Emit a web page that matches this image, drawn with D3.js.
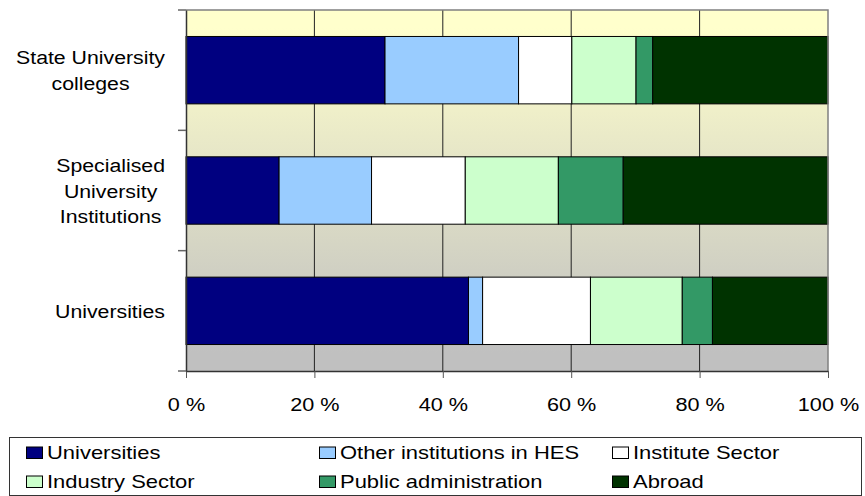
<!DOCTYPE html>
<html>
<head>
<meta charset="utf-8">
<script src="https://cdn.jsdelivr.net/npm/d3@7"></script>
<style>
  body { margin: 0; background: #fff; }
  svg text { font-family: "Liberation Sans", Arial, sans-serif; fill: #000; }
</style>
</head>
<body>
<div id="chart"></div>
<script>
// categories, top to bottom
const categories = ["State University colleges", "Specialised University Institutions", "Universities"];
const categoryLines = [["State University", "colleges"], ["Specialised", "University", "Institutions"], ["Universities"]];

const seriesNames = ["Universities", "Other institutions in HES", "Institute Sector",
  "Industry Sector", "Public administration", "Abroad"];

// share in % per category
const universities = [31.0, 14.5, 44.0];
const otherHES     = [20.8, 14.4, 2.2];
const institute    = [8.3, 14.6, 16.8];
const industry     = [10.0, 14.5, 14.3];
const publicAdmin  = [2.6, 10.1, 4.7];
const abroad       = [27.3, 31.9, 18.0];

const xTicks = [0, 20, 40, 60, 80, 100];
const xTickLabels = ["0 %", "20 %", "40 %", "60 %", "80 %", "100 %"];

const colors = ["#000080", "#99ccff", "#ffffff", "#ccffcc", "#339966", "#003300"];

const width = 865, height = 496;
const plot = { left: 186, right: 828, top: 10, bottom: 371 };

const seriesValues = [universities, otherHES, institute, industry, publicAdmin, abroad];
const rows = categories.map((c, i) => {
  const r = { category: c };
  seriesNames.forEach((s, j) => r[s] = seriesValues[j][i]);
  return r;
});

const stacked = d3.stack().keys(seriesNames)(rows);

const x = d3.scaleLinear().domain([0, 100]).range([plot.left, plot.right]);
const y = d3.scaleBand().domain(categories).range([plot.top, plot.bottom])
  .paddingInner(0.44).paddingOuter(0.22);

const svg = d3.select("#chart").append("svg")
  .attr("width", width)
  .attr("height", height);

// background gradient of the plot area
const grad = svg.append("defs").append("linearGradient")
  .attr("id", "bg").attr("x1", 0).attr("y1", 0).attr("x2", 0).attr("y2", 1);
grad.append("stop").attr("offset", "0.05").attr("stop-color", "#ffffcc");
grad.append("stop").attr("offset", "0.95").attr("stop-color", "#c0c0c0");

svg.append("rect")
  .attr("x", plot.left).attr("y", plot.top)
  .attr("width", plot.right - plot.left).attr("height", plot.bottom - plot.top)
  .attr("fill", "url(#bg)");

// vertical gridlines
svg.append("g").selectAll("line")
  .data(xTicks.slice(1, -1))
  .enter().append("line")
  .attr("x1", d => x(d)).attr("x2", d => x(d))
  .attr("y1", plot.top).attr("y2", plot.bottom)
  .attr("stroke", "#222").attr("stroke-width", 1);

// bars
svg.append("g").selectAll("g")
  .data(stacked)
  .enter().append("g")
  .attr("fill", (d, i) => colors[i])
  .selectAll("rect")
  .data(d => d)
  .enter().append("rect")
  .attr("x", d => x(d[0]))
  .attr("y", d => y(d.data.category))
  .attr("width", d => x(d[1]) - x(d[0]))
  .attr("height", y.bandwidth())
  .attr("stroke", "#000")
  .attr("stroke-width", 1);

// top and right frame
svg.append("path")
  .attr("d", `M${plot.left},${plot.top}H${plot.right}V${plot.bottom}`)
  .attr("fill", "none").attr("stroke", "#808080").attr("stroke-width", 1.5);

// bottom axis
const xAxis = svg.append("g")
  .attr("transform", `translate(0,${plot.bottom})`)
  .call(d3.axisBottom(x).tickValues(xTicks).tickSize(7).tickSizeOuter(0)
    .tickFormat((d, i) => xTickLabels[i]));
xAxis.attr("font-family", null).attr("font-size", null);
xAxis.select(".domain").attr("stroke", "#333").attr("stroke-width", 1.5);
xAxis.selectAll(".tick line").attr("stroke", "#555");
xAxis.selectAll(".tick text")
  .attr("y", 40).attr("dy", null)
  .attr("font-size", "19px")
  .attr("transform", "scale(1.14,1)");

// left axis (ticks sit between categories)
const yAxis = svg.append("g")
  .attr("transform", `translate(${plot.left},0)`)
  .call(d3.axisLeft(y).tickSize(0).tickSizeOuter(0).tickFormat(""));
yAxis.select(".domain").attr("stroke", "#333").attr("stroke-width", 1.5);

const boundaries = d3.range(categories.length + 1).map(i => plot.top + i * y.step());
yAxis.selectAll(".sep")
  .data(boundaries)
  .enter().append("line")
  .attr("class", "sep")
  .attr("x1", -8).attr("x2", 0)
  .attr("y1", d => d).attr("y2", d => d)
  .attr("stroke", "#666").attr("stroke-width", 1.5);

// category labels, lines centred in a block that is right aligned
const labelRight = 165, lineGap = 25.7;
categories.forEach((c, i) => {
  const lines = categoryLines[i];
  const cy = y(c) + y.bandwidth() / 2;
  const g = svg.append("g");
  const texts = g.selectAll("text")
    .data(lines)
    .enter().append("text")
    .attr("font-size", "19px")
    .attr("text-anchor", "middle")
    .text(d => d);
  const sx = 1.12;
  const maxW = d3.max(texts.nodes(), n => n.getComputedTextLength()) * sx;
  const cx = labelRight - maxW / 2;
  texts.attr("transform", (d, k) => {
    const ly = cy + (k - (lines.length - 1) / 2) * lineGap + 7;
    return `translate(${cx},${ly}) scale(${sx},1)`;
  });
});

// legend
const legend = svg.append("g");
legend.append("rect")
  .attr("x", 9.5).attr("y", 437.5)
  .attr("width", 852).attr("height", 58)
  .attr("fill", "#fff").attr("stroke", "#333").attr("stroke-width", 1);

const colX = [26, 319, 612];
const rowY = [459, 488];
const items = legend.selectAll(".item")
  .data(seriesNames)
  .enter().append("g")
  .attr("class", "item")
  .attr("transform", (d, i) => `translate(${colX[i % 3]},${rowY[Math.floor(i / 3)]})`);
items.append("rect")
  .attr("x", 0.5).attr("y", -12)
  .attr("width", 16).attr("height", 11.5)
  .attr("fill", (d, i) => colors[i])
  .attr("stroke", "#000").attr("stroke-width", 1);
items.append("text")
  .attr("font-size", "18px")
  .attr("transform", "translate(21,0) scale(1.22,1)")
  .text(d => d);
</script>
</body>
</html>
